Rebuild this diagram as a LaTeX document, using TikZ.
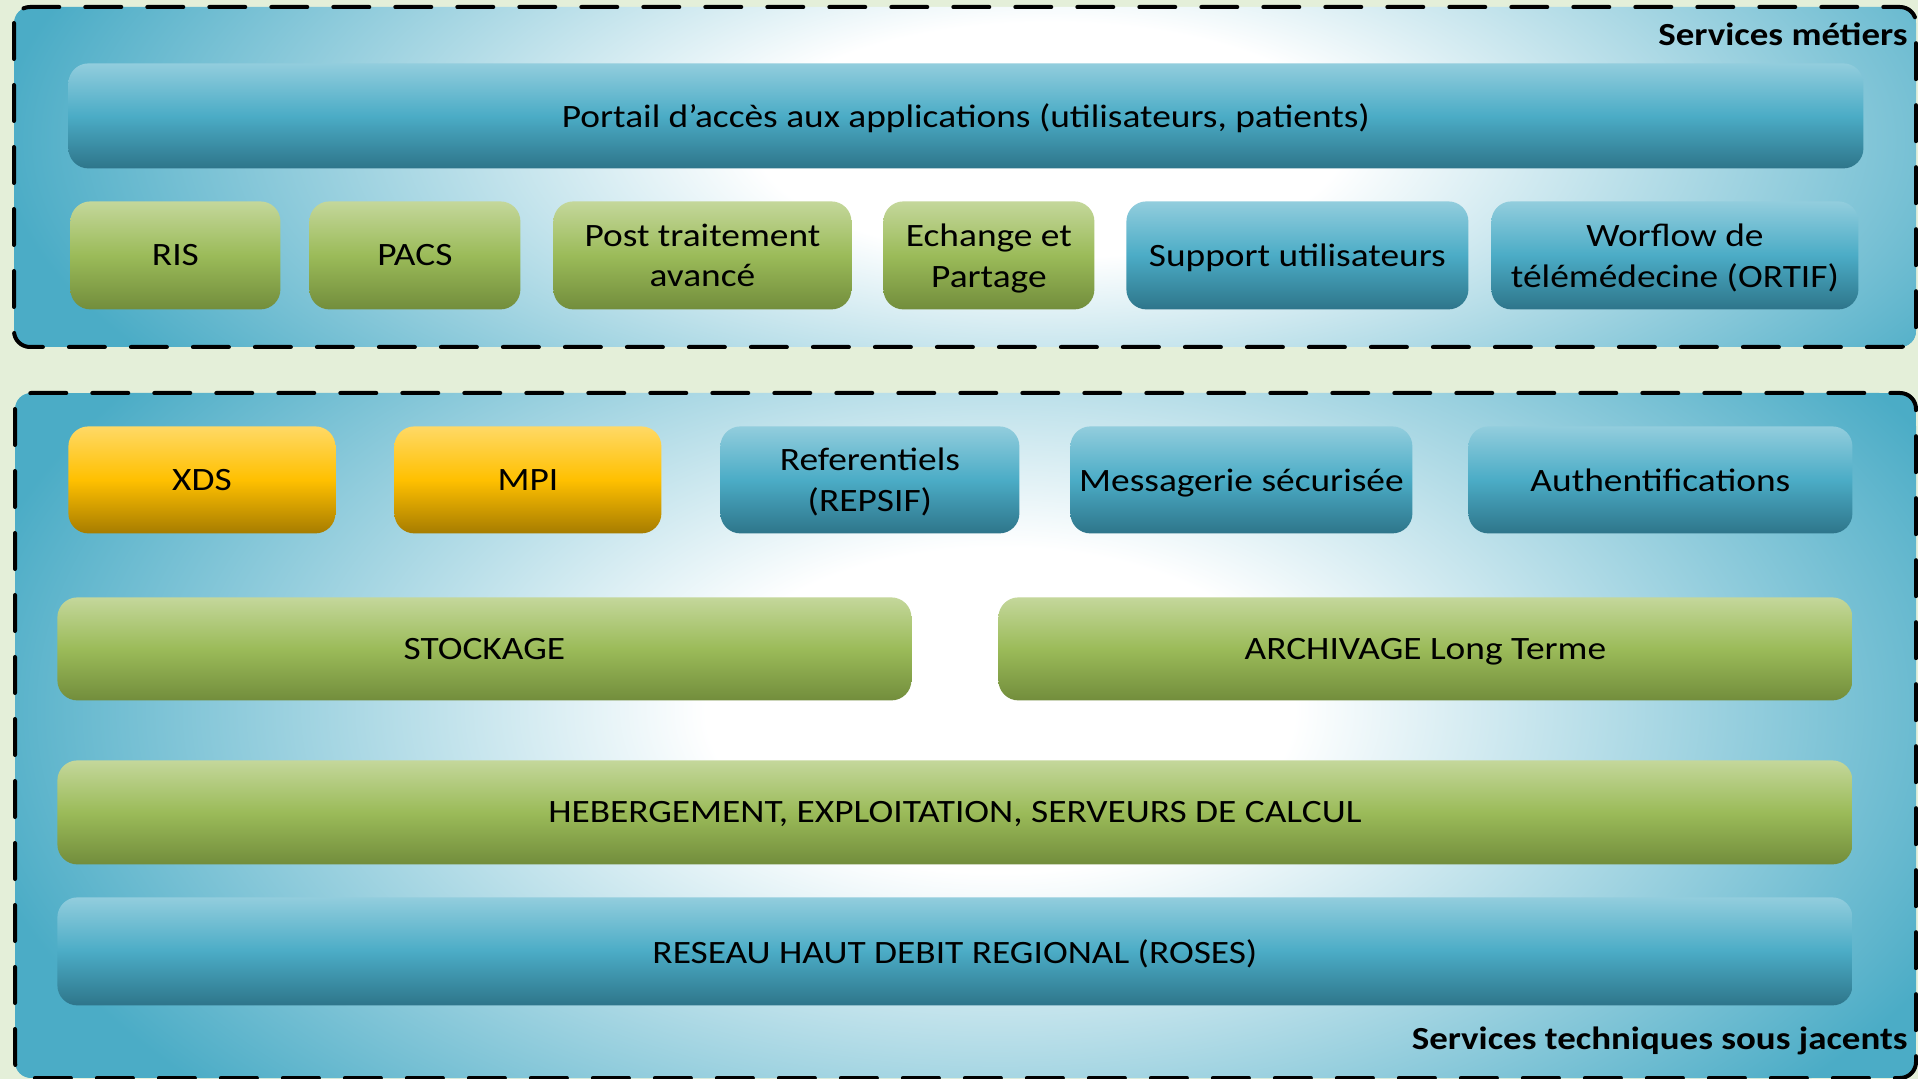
\documentclass[tikz,border=0pt]{standalone}
\usepackage{fontspec}
\setmainfont{Carlito}[FakeStretch=1.147]

\definecolor{bggreen}{RGB}{228,239,217}
\definecolor{panblue}{RGB}{75,172,198}
\definecolor{bluetop}{RGB}{146,205,221}
\definecolor{bluemid}{RGB}{75,172,198}
\definecolor{bluebot}{RGB}{46,117,138}
\definecolor{greentop}{RGB}{196,215,155}
\definecolor{greenmid}{RGB}{155,187,89}
\definecolor{greenbot}{RGB}{114,141,60}
\definecolor{yellowtop}{RGB}{255,217,102}
\definecolor{yellowmid}{RGB}{255,192,0}
\definecolor{yellowbot}{RGB}{166,124,0}

\pgfdeclareradialshading{panelglow}{\pgfpoint{0bp}{0bp}}{%
  color(0bp)=(white); color(7bp)=(white); color(25bp)=(panblue); color(50bp)=(panblue)}

\newcommand\blocfont{\fontsize{16.3}{20.3}\selectfont}
\newcommand\titrefont{\fontsize{16.1}{18}\selectfont\bfseries}

\begin{document}
\begin{tikzpicture}[x=0.5pt, y=-0.5pt,
    bloc/.style = {rounded corners=10pt, minimum height=54pt, inner sep=0pt,
                   text depth=0pt, align=center, anchor=north west, font=\blocfont},
    bleu/.style = {bloc, top color=bluetop, bottom color=bluebot, middle color=bluemid},
    vert/.style = {bloc, top color=greentop, bottom color=greenbot, middle color=greenmid},
    jaune/.style = {bloc, top color=yellowtop, bottom color=yellowbot, middle color=yellowmid},
    cadre/.style = {rounded corners=8pt, line width=2pt, line cap=round,
                    dash pattern=on 18pt off 13pt},
    titre/.style = {anchor=base east, inner sep=0pt, font=\titrefont}]
  \useasboundingbox (0,0) rectangle (1918,1079);
  \fill[bggreen] (0,0) rectangle (1918,1079);

  % services metiers
  \begin{scope}
    \clip[rounded corners=8pt] (14,7) rectangle (1916,347);
    \fill[panblue] (14,7) rectangle (1916,347);
    \shade[shading=panelglow] (1050,140) ellipse [x radius=525pt, y radius=210pt];
  \end{scope}
  \draw[cadre] (14,7) rectangle (1916,347);

  % services techniques
  \begin{scope}
    \clip[rounded corners=8pt] (15,393) rectangle (1916,1078);
    \fill[panblue] (15,393) rectangle (1916,1078);
    \shade[shading=panelglow] (1000,710) ellipse [x radius=525pt, y radius=290pt];
  \end{scope}
  \draw[cadre] (15,393) rectangle (1916,1078);

  \node[titre] (metiers) at (1908,46) {Services métiers};
  \node[titre] (techniques) at (1908,1049) {Services techniques sous jacents};

  \node[bleu, minimum width=897.5pt, minimum height=52.5pt] (portail) at (68,63)
    {Portail d’accès aux applications (utilisateurs, patients)};
  \node[vert, minimum width=105pt] (ris) at (70,201) {RIS};
  \node[vert, minimum width=105.5pt] (pacs) at (309,201) {PACS};
  \node[vert, minimum width=149pt] (post) at (553,201) {Post traitement\\avancé};
  \node[vert, minimum width=105.5pt] (echange) at (883,201) {Echange et\\Partage};
  \node[bleu, minimum width=171pt] (support) at (1126,201) {Support utilisateurs};
  \node[bleu, minimum width=183.5pt] (worflow) at (1491,201) {Worflow de\\télémédecine (ORTIF)};

  \node[jaune, minimum width=133.5pt, minimum height=53.5pt] (xds) at (68,426) {XDS};
  \node[jaune, minimum width=133.5pt, minimum height=53.5pt] (mpi) at (394,426) {MPI};
  \node[bleu, minimum width=149.5pt, minimum height=53.5pt] (referentiels) at (720,426) {Referentiels\\(REPSIF)};
  \node[bleu, minimum width=171pt, minimum height=53.5pt] (messagerie) at (1070,426) {Messagerie sécurisée};
  \node[bleu, minimum width=192pt, minimum height=53.5pt] (auth) at (1468,426) {Authentifications};

  \node[vert, minimum width=427pt, minimum height=51.5pt] (stockage) at (57,597) {STOCKAGE};
  \node[vert, minimum width=427pt, minimum height=51.5pt] (archivage) at (998,597) {ARCHIVAGE Long Terme};
  \node[vert, minimum width=897.5pt, minimum height=52pt] (hebergement) at (57,760)
    {HEBERGEMENT, EXPLOITATION, SERVEURS DE CALCUL};
  \node[bleu, minimum width=897.5pt] (reseau) at (57,897) {RESEAU HAUT DEBIT REGIONAL (ROSES)};
\end{tikzpicture}
\end{document}
